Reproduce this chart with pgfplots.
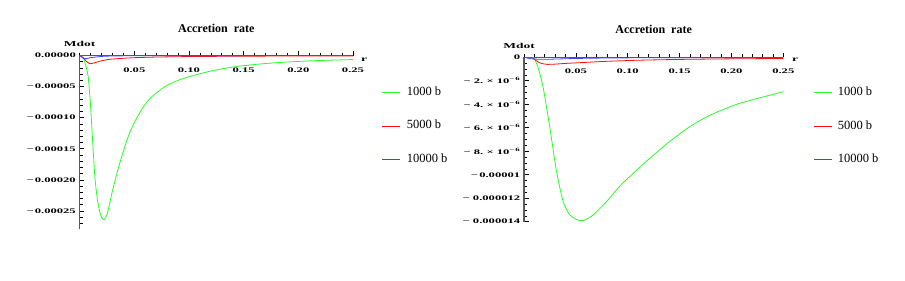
\documentclass[border=0pt]{standalone}
\usepackage{fontspec}
\setmainfont{Liberation Serif}
\newfontfamily\tickfont[FakeStretch=1.8]{Liberation Serif}
\usepackage{pgfplots}
\pgfplotsset{compat=1.18}
\definecolor{mgreen}{rgb}{0.15,1,0.15}
\definecolor{mred}{rgb}{1,0.05,0.05}
\definecolor{mblue}{rgb}{0.25,0.25,1}
\definecolor{axgray}{gray}{0.35}

\pgfplotsset{
 mstyle/.style={
  scale only axis,
  anchor=north west,
  axis x line*=top, axis y line*=left,
  axis line style={axgray, line width=1.3bp},
  tick align=inside,
  scaled x ticks=false, scaled y ticks=false,
  major tick length=4.5bp, minor tick length=3bp,
  every tick/.style={black, line width=0.6bp},
  major x tick style={yshift=4.5bp}, minor x tick style={yshift=3bp},
  ticklabel style={font=\tickfont\bfseries\fontsize{7bp}{8bp}\selectfont, inner sep=0pt},
  xticklabel style={anchor=base, yshift=-16.5bp},
  yticklabel style={anchor=east, xshift=-3.6bp},
  xtick={0.05,0.1,0.15,0.2,0.25},
  xticklabels={0.05,0.10,0.15,0.20,0.25},
  minor xtick={0,0.01,...,0.25},
  xmin=0, xmax=0.25,
  every axis title/.style={at={(0.5,1)}, anchor=base, yshift=23.5bp, inner sep=0pt, font=\bfseries\fontsize{12bp}{14bp}\selectfont},
  title={Accretion\ \ rate},
  every axis y label/.style={at={(0,1)}, anchor=base, yshift=9bp, inner sep=0pt, font=\tickfont\bfseries\fontsize{7.5bp}{8bp}\selectfont},
  every axis x label/.style={at={(1,1)}, anchor=west, xshift=8bp, yshift=-4.5bp, inner sep=0pt, font=\tickfont\bfseries\fontsize{7.5bp}{8bp}\selectfont},
  ylabel={Mdot}, xlabel={r},
  legend style={draw=none, fill=none, inner xsep=0pt, inner ysep=0pt, anchor=west,
    font=\fontsize{12.5bp}{14bp}\selectfont, row sep=21.5bp,
    nodes={inner sep=0pt, text height=9bp, text depth=3bp},
    /tikz/every odd column/.append style={column sep=6bp}},
  legend image code/.code={\draw[#1, line width=0.6bp] (0bp,0bp) -- (18bp,0bp);},
  legend cell align=left,
  every axis plot/.append style={line width=0.8bp, no markers, smooth, tension=0.4},
 }
}

\begin{document}
\begin{tikzpicture}
\path[use as bounding box] (0bp,0bp) rectangle (905bp,-281bp);

\begin{axis}[mstyle,
  at={(79.6bp,-55.5bp)}, width=273.4bp, height=173.5bp,
  ymin=-0.000279, ymax=0,
  ytick={0,-0.00005,-0.0001,-0.00015,-0.0002,-0.00025},
  yticklabels={0.00000,−\,0.00005,−\,0.00010,−\,0.00015,−\,0.00020,−\,0.00025},
  minor ytick={-0.00027,-0.00026,...,0},
  legend style={at={(axis description cs:1.106,0.594)}},
]
\addplot[mgreen] coordinates {(0,0) (0.003,-0.000003) (0.005,-0.000012) (0.0065,-0.000022) (0.008,-0.000036) (0.010,-0.00008) (0.012,-0.00014) (0.014,-0.000196) (0.016,-0.000228) (0.018,-0.000248) (0.020,-0.00026) (0.0225,-0.000264) (0.025,-0.000256) (0.0275,-0.000238) (0.030,-0.000218) (0.035,-0.000184) (0.040,-0.000154) (0.045,-0.000128) (0.050,-0.000108) (0.057,-0.000086) (0.065,-0.000068) (0.078,-0.000050) (0.09,-0.000040) (0.10,-0.000034) (0.12,-0.000025) (0.14,-0.0000185) (0.16,-0.0000145) (0.18,-0.0000115) (0.20,-0.0000095) (0.22,-0.000008) (0.25,-0.0000065)};
\addlegendentry{1000 b}
\addplot[mred] coordinates {(0,0) (0.003,-0.000003) (0.006,-0.000009) (0.0095,-0.0000133) (0.015,-0.000011) (0.02,-0.0000085) (0.028,-0.000006) (0.04,-0.0000045) (0.05,-0.0000035) (0.07,-0.0000025) (0.1,-0.0000017) (0.15,-0.0000011) (0.2,-0.0000008) (0.25,-0.0000006)};
\addlegendentry{5000 b}
\addplot[mblue] coordinates {(0,0) (0.003,-0.000004) (0.006,-0.000005) (0.01,-0.0000035) (0.02,-0.0000015) (0.03,-0.0000008) (0.05,-0.0000004) (0.1,-0.0000002) (0.25,-0.0000001)};
\addlegendentry{10000 b}
\end{axis}

\begin{axis}[mstyle,
  at={(524bp,-57.3bp)}, width=259.3bp, height=164.4bp,
  ymin=-0.000014, ymax=0,
  ytick={0,-0.000002,-0.000004,-0.000006,-0.000008,-0.00001,-0.000012,-0.000014},
  yticklabels={0,−\ 2.\ ×\ 10\textsuperscript{−\,6},−\ 4.\ ×\ 10\textsuperscript{−\,6},−\ 6.\ ×\ 10\textsuperscript{−\,6},−\ 8.\ ×\ 10\textsuperscript{−\,6},−\,0.00001,−\ 0.000012,−\ 0.000014},
  minor ytick={-0.000014,-0.0000135,...,0},
  every axis y label/.append style={xshift=-5bp},
  every axis x label/.append style={xshift=0.7bp, yshift=1.8bp},
  legend style={at={(axis description cs:1.1146,0.582)}},
]
\addplot[mgreen] coordinates {(0,0) (0.008,0) (0.0106,-0.00000023) (0.0138,-0.00000094) (0.0186,-0.00000264) (0.025,-0.00000605) (0.0314,-0.00000974) (0.0378,-0.0000123) (0.0442,-0.00001343) (0.0538,-0.00001392) (0.06,-0.0000138) (0.0667,-0.00001343) (0.0795,-0.0000123) (0.092,-0.000011) (0.105,-0.0000099) (0.12,-0.0000087) (0.14,-0.0000072) (0.16,-0.0000059) (0.18,-0.0000049) (0.208,-0.00000392) (0.25,-0.00000293)};
\addlegendentry{1000 b}
\addplot[mred] coordinates {(0,0) (0.007,0) (0.012,-0.0000003) (0.016,-0.0000005) (0.022,-0.0000006) (0.03,-0.00000058) (0.04,-0.00000052) (0.06,-0.00000043) (0.08,-0.00000034) (0.11,-0.00000025) (0.15,-0.00000018) (0.2,-0.00000013) (0.25,-0.0000001)};
\addlegendentry{5000 b}
\addplot[mblue] coordinates {(0,0) (0.005,-0.0000001) (0.01,-0.00000015) (0.02,-0.00000017) (0.03,-0.00000015) (0.05,-0.0000001) (0.08,-0.00000006) (0.12,-0.00000004) (0.25,-0.00000002)};
\addlegendentry{10000 b}
\end{axis}
\end{tikzpicture}
\end{document}
